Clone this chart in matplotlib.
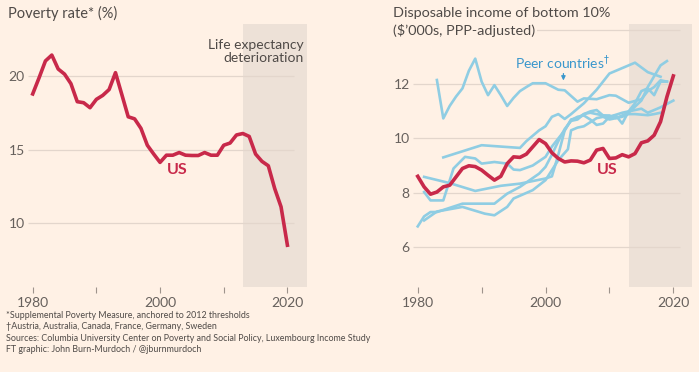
import matplotlib
matplotlib.use('Agg')
from matplotlib import pyplot as plt

# poverty rate (left panel)
pov_years = list(range(1980, 2021))
pov_rate = [18.8, 19.9, 21.05, 21.45, 20.5, 20.15, 19.5, 18.27, 18.2, 17.86,
            18.43, 18.7, 19.1, 20.25, 18.75, 17.24, 17.1, 16.45, 15.3, 14.7,
            14.13, 14.62, 14.62, 14.8, 14.62, 14.6, 14.6, 14.8, 14.62, 14.62,
            15.3, 15.45, 16.0, 16.1, 15.9, 14.7, 14.2, 13.9, 12.35, 11.1, 8.48]

# disposable income of bottom 10%, US
us_years = list(range(1980, 2021))
us_income = [8.6, 8.21, 7.94, 8.02, 8.21, 8.27, 8.58, 8.89, 8.99, 8.96,
             8.83, 8.64, 8.46, 8.6, 9.07, 9.32, 9.3, 9.42, 9.69, 9.96,
             9.81, 9.47, 9.26, 9.13, 9.17, 9.16, 9.1, 9.2, 9.57, 9.63,
             9.26, 9.28, 9.4, 9.32, 9.44, 9.84, 9.91, 10.12, 10.62, 11.54, 12.31]

# peer countries (LIS waves, irregular years)
peer1_years = [1983, 1984, 1985, 1986, 1987, 1988, 1989, 1990, 1991, 1992, 1993, 1994,
               1995, 1996, 1997, 1998, 2000, 2002, 2003, 2005, 2006, 2008, 2010,
               2011, 2013, 2015, 2016, 2017, 2018, 2019]
peer1 = [12.16, 10.74, 11.2, 11.55, 11.85, 12.5, 12.95, 12.1, 11.6, 11.97, 11.6, 11.2,
         11.5, 11.75, 11.9, 12.04, 12.04, 11.8, 11.78, 11.36, 11.48, 11.45, 11.6,
         11.58, 11.32, 11.45, 11.75, 11.9, 12.15, 12.1]

peer2_years = [1984, 1990, 1996, 1997, 1998, 1999, 2000, 2001, 2002, 2003, 2004, 2006,
               2008, 2010, 2014, 2016, 2018]
peer2 = [9.3, 9.75, 9.65, 9.9, 10.1, 10.3, 10.45, 10.8, 10.9, 10.72, 10.9, 11.3,
         11.8, 12.4, 12.8, 12.45, 12.28]

peer3_years = [1981, 1985, 1989, 1993, 1996, 2000, 2001, 2002, 2003, 2004, 2005, 2006,
               2007, 2008, 2010, 2012, 2013, 2015, 2016, 2018, 2020]
peer3 = [8.58, 8.35, 8.06, 8.25, 8.33, 8.52, 8.6, 9.4, 10.3, 10.7, 10.75, 10.9,
         10.95, 10.9, 10.8, 10.95, 11.0, 11.1, 10.95, 11.15, 11.4]

peer4_years = [1981, 1982, 1984, 1985.6, 1987.4, 1989, 1990, 1992, 1994, 1995, 1996,
               1998, 2000, 2001, 2002, 2003, 2004, 2005, 2006, 2007, 2008, 2009,
               2010, 2011, 2012, 2013, 2014, 2015, 2016, 2017, 2018, 2019]
peer4 = [8.02, 7.71, 7.71, 8.89, 9.32, 9.26, 9.07, 9.13, 9.07, 8.85, 8.83,
         9.0, 9.32, 9.7, 10.0, 10.3, 10.68, 10.8, 10.85, 10.7, 10.5, 10.55,
         10.8, 10.85, 10.55, 11.0, 11.3, 11.75, 11.85, 11.6, 12.1, 12.1]

peer5_years = [1980, 1981, 1982, 1983, 1987, 1992, 1994, 1996, 1999, 2000, 2001, 2002,
               2003, 2004, 2005, 2006, 2007, 2008, 2009, 2010, 2011, 2013, 2015,
               2016, 2017, 2018, 2019]
peer5 = [6.75, 7.12, 7.28, 7.28, 7.59, 7.59, 7.96, 8.21, 8.7, 8.95, 9.4, 9.9,
         10.35, 10.65, 10.7, 10.9, 11.0, 11.05, 10.85, 10.85, 10.75, 10.95, 11.4,
         11.9, 12.3, 12.7, 12.86]

peer6_years = [1981, 1983, 1987, 1990.5, 1992, 1994, 1995, 1998, 2000, 2002, 2003.5,
               2004, 2005, 2006, 2007, 2008, 2009, 2010, 2012, 2013, 2014, 2016,
               2017, 2018]
peer6 = [6.97, 7.3, 7.47, 7.22, 7.16, 7.47, 7.78, 8.09, 8.46, 9.2, 9.6,
         10.3, 10.4, 10.45, 10.6, 10.75, 10.8, 10.7, 10.8, 10.9, 10.9, 10.86,
         10.9, 10.95]

peer_years = [peer1_years, peer2_years, peer3_years, peer4_years, peer5_years, peer6_years]
peer_values = [peer1, peer2, peer3, peer4, peer5, peer6]

BG = '#fff1e5'
SHADE = '#ede1d7'
GRID = '#e3d6cc'
RED = '#c8294a'
BLUE = '#8fcde3'
TEXT = '#4f4a47'
TICK = '#66605c'
FONT = ['Lato', 'DejaVu Sans']

plt.rcParams['font.family'] = FONT

fig = plt.figure(figsize=(6.99, 3.72), dpi=100, facecolor=BG)
ax1 = fig.add_axes([0.0395, 0.2285, 0.399, 0.707])
ax2 = fig.add_axes([0.5903, 0.2285, 0.4004, 0.707])


def style_axis(ax, yticks, ylim):
    ax.set_facecolor(BG)
    ax.set_xlim(1979.2, 2023)
    ax.set_ylim(*ylim)
    ax.axvspan(2013, 2023, color=SHADE, zorder=0, lw=0)
    ax.hlines(yticks, 1979.2, 2021, color=GRID, lw=0.9, zorder=1)
    for s in ax.spines.values():
        s.set_visible(False)
    ax.set_xticks([1980, 1990, 2000, 2010, 2020])
    ax.set_xticklabels(['1980', '', '2000', '', '2020'])
    ax.tick_params(axis='x', length=4, width=0.8, color='#9e948c', pad=3,
                   labelsize=10, labelcolor=TICK)
    ax.tick_params(axis='y', length=0, pad=2, labelsize=10, labelcolor=TICK)


# left panel
style_axis(ax1, [10, 15, 20], (5.63, 23.57))
ax1.set_yticks([10, 15, 20])
ax1.plot(pov_years, pov_rate, color=RED, lw=2.6, zorder=3, solid_joinstyle='round')
ax1.text(2002.7, 13.6, 'US', color=RED, fontsize=11.5, fontweight='bold',
         ha='center', va='center')
ax1.text(2022.6, 21.7, 'Life expectancy\ndeterioration', color=TEXT, fontsize=10,
         ha='right', va='center', linespacing=1.1)
fig.text(0.011, 0.965, 'Poverty rate* (%)', color=TEXT, fontsize=10.5, va='center')

# right panel
style_axis(ax2, [6, 8, 10, 12, 14], (4.51, 14.23))
ax2.set_yticks([6, 8, 10, 12])
for yrs, vals in zip(peer_years, peer_values):
    ax2.plot(yrs, vals, color=BLUE, lw=1.9, zorder=2, solid_joinstyle='round')
ax2.plot(us_years, us_income, color=RED, lw=2.6, zorder=3, solid_joinstyle='round')
ax2.text(2009.7, 8.83, 'US', color=RED, fontsize=11.5, fontweight='bold',
         ha='center', va='center')
ax2.text(2002.6, 12.8, 'Peer countries$^{\u2020}$', color='#3a97cc', fontsize=10,
         ha='center', va='center')
ax2.annotate('', xy=(2002.8, 12.04), xytext=(2002.8, 12.5),
             arrowprops=dict(arrowstyle='-|>', color='#3a97cc', lw=0.9,
                             mutation_scale=6))
fig.text(0.5625, 0.965, 'Disposable income of bottom 10%', color=TEXT, fontsize=10.4,
         va='center')
fig.text(0.5625, 0.918, '($\u2019000s, PPP-adjusted)', color=TEXT, fontsize=10.4,
         va='center', bbox=dict(facecolor=BG, edgecolor='none', pad=1))

notes = ['*Supplemental Poverty Measure, anchored to 2012 thresholds',
         '\u2020Austria, Australia, Canada, France, Germany, Sweden',
         'Sources: Columbia University Center on Poverty and Social Policy, Luxembourg Income Study',
         'FT graphic: John Burn-Murdoch / @jburnmurdoch']
for i, line in enumerate(notes):
    fig.text(0.009, 0.153 - i * 0.0312, line, color=TEXT, fontsize=6.4, va='center')

fig.savefig('out.png', dpi=100, facecolor=BG)
